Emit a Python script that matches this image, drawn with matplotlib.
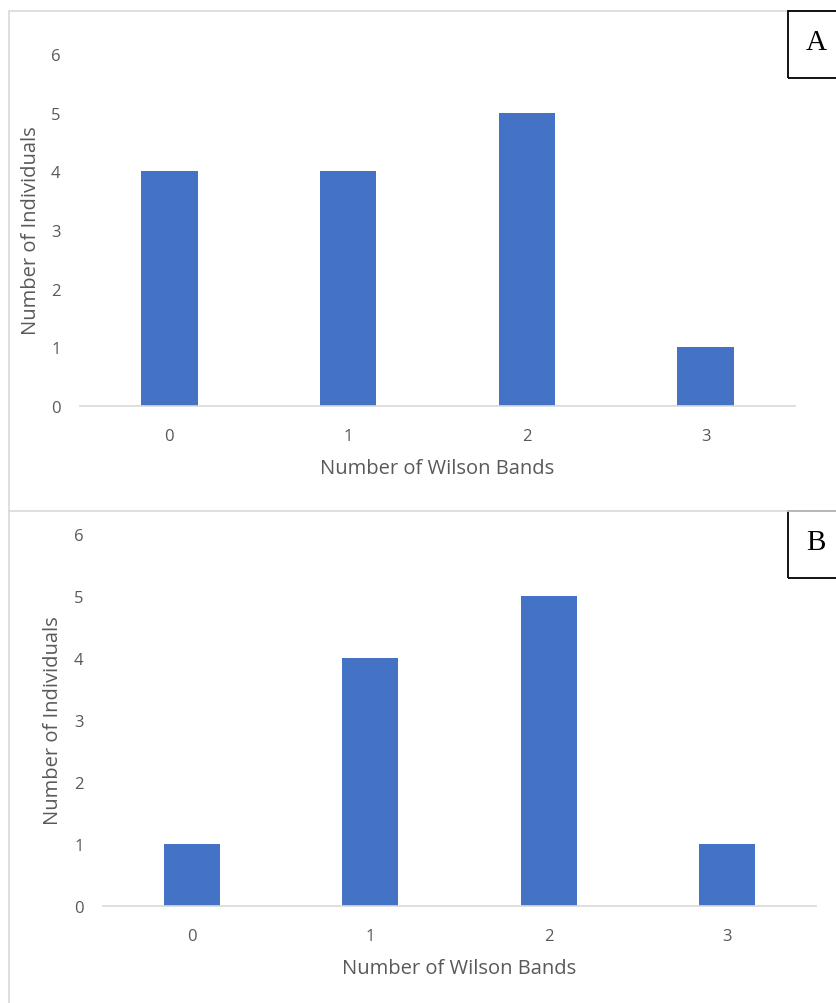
import matplotlib
matplotlib.use("Agg")
import numpy as np
from matplotlib import pyplot as plt
from matplotlib.patches import Rectangle
from matplotlib.lines import Line2D

# data
bands = [0, 1, 2, 3]
counts_a = [4, 4, 5, 1]
counts_b = [1, 4, 5, 1]
panel_labels = ["A", "B"]

W, H = 836, 1004
BAR = "#4472C4"
TXT = "#595959"
GRID = "#D9D9D9"

plt.rcParams['font.family'] = ['Open Sans', 'DejaVu Sans']

fig = plt.figure(figsize=(W / 100, H / 100), dpi=100)


def px(x0, y_top, x1, y_bot):
    # pixel box -> figure fraction [left, bottom, width, height]
    return [x0 / W, 1 - y_bot / H, (x1 - x0) / W, (y_bot - y_top) / H]


def draw_panel(rect, values, ylab_x):
    ax = fig.add_axes(px(*rect))
    x = np.array(bands)
    ax.bar(x, values, width=0.315, color=BAR, zorder=2)
    ax.set_xlim(-0.5, 3.5)
    ax.set_ylim(0, 6)
    ax.set_xticks(x)
    ax.set_yticks(range(0, 7))
    for s in ["top", "right", "left"]:
        ax.spines[s].set_visible(False)
    ax.spines["bottom"].set_color(GRID)
    ax.spines["bottom"].set_linewidth(1.2)
    ax.tick_params(axis="both", length=0, labelsize=12, labelcolor=TXT)
    ax.tick_params(axis="x", pad=16)
    ax.tick_params(axis="y", pad=14)
    x0, y_top, x1, y_bot = rect
    fig.text((x0 + x1) / 2 / W, 1 - (y_bot + 62) / H, "Number of Wilson Bands",
             ha="center", va="center", fontsize=14.5, color=TXT)
    fig.text(ylab_x / W, 1 - (y_top + y_bot) / 2 / H, "Number of Individuals",
             ha="center", va="center", rotation=90, fontsize=14.5, color=TXT)
    return ax


draw_panel((80, 55, 795, 407), counts_a, 31)
draw_panel((103, 535, 816, 907), counts_b, 53)

# outer frames
fig.patches.append(Rectangle((9 / W, -0.01), 1, 1 - 12 / H + 0.01, transform=fig.transFigure,
                             fill=False, edgecolor=GRID, linewidth=1.2))
fig.lines.append(Line2D([9 / W, 1], [1 - 512 / H, 1 - 512 / H], transform=fig.transFigure,
                        color=GRID, linewidth=1.2))

# panel letter boxes
for lab, top in zip(panel_labels, [12, 512]):
    fig.patches.append(Rectangle((788 / W, 1 - (top + 67) / H), 60 / W, 67 / H,
                                 transform=fig.transFigure, fill=False,
                                 edgecolor="black", linewidth=1.3))
    fig.text(816 / W, 1 - (top + 31) / H, lab, ha="center", va="center",
             fontsize=21, family="Liberation Serif", color="black")

fig.savefig("out.png", dpi=100)
